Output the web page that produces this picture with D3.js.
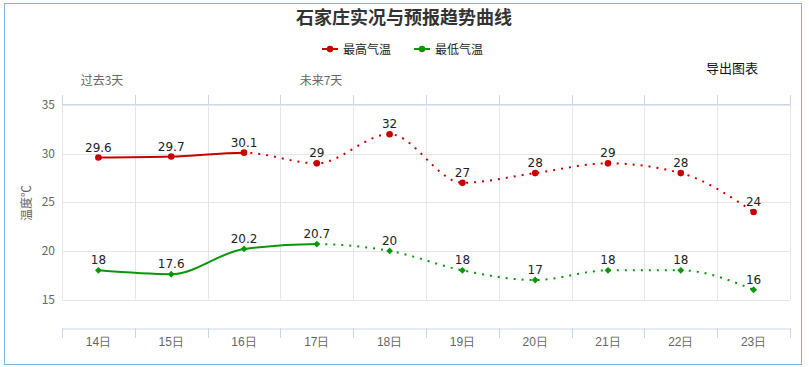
<!DOCTYPE html>
<html>
<head>
<meta charset="utf-8">
<script src="https://cdn.jsdelivr.net/npm/d3@7"></script>
<style>
  body { margin: 0; background: #fff; }
  svg { display: block; font-family: "Noto Sans CJK SC", "Noto Sans", sans-serif; }
  .grid line { stroke: #e6e6e6; }
  .ylab { fill: #666; font-size: 12px; }
  .xlab { fill: #666; font-size: 12px; }
  .dlab { fill: #222; font-size: 12px; font-family: "DejaVu Sans", sans-serif; }
</style>
</head>
<body>
<svg id="chart" width="809" height="367"></svg>
<script>
const days = ['14日', '15日', '16日', '17日', '18日', '19日', '20日', '21日', '22日', '23日'];
const maxTemp = [29.6, 29.7, 30.1, 29, 32, 27, 28, 29, 28, 24];
const minTemp = [18, 17.6, 20.2, 20.7, 20, 18, 17, 18, 18, 16];
const yTicks = [15, 20, 25, 30, 35];
// last index drawn with a solid line for each series
const maxSolidTo = 2;
const minSolidTo = 3;

const W = 809, H = 367;
const PLOT = { LEFT: 62, RIGHT: 790, TOP: 105, BOTTOM: 299.5 };
const XAXIS_Y = 328;
const RED = '#c80000', GREEN = '#0a960a';

const svg = d3.select('#chart');

svg.append('rect')
  .attr('x', 4.5).attr('y', 3.5)
  .attr('width', 797).attr('height', 361)
  .attr('fill', '#fff')
  .attr('stroke', '#7cb5ec');

const x = d3.scaleBand().domain(days).range([PLOT.LEFT, PLOT.RIGHT]);
const y = d3.scaleLinear().domain([15, 35]).range([PLOT.BOTTOM, PLOT.TOP]);
const cx = d => x(d) + x.bandwidth() / 2;
const bounds = days.map(d => x(d)).concat([PLOT.RIGHT]);

// grid
const grid = svg.append('g').attr('class', 'grid');
grid.selectAll('.hg').data(yTicks).enter().append('line')
  .attr('x1', PLOT.LEFT).attr('x2', PLOT.RIGHT)
  .attr('y1', d => Math.round(y(d)) + 0.5).attr('y2', d => Math.round(y(d)) + 0.5);
grid.selectAll('.vg').data(bounds).enter().append('line')
  .attr('x1', d => Math.round(d) + 0.5).attr('x2', d => Math.round(d) + 0.5)
  .attr('y1', PLOT.TOP - 1).attr('y2', PLOT.BOTTOM);

// top axis
svg.append('line')
  .attr('x1', PLOT.LEFT).attr('x2', PLOT.RIGHT)
  .attr('y1', 104.5).attr('y2', 104.5)
  .attr('stroke', '#ccd6eb');
svg.selectAll('.ttick').data(bounds).enter().append('line')
  .attr('x1', d => Math.round(d) + 0.5).attr('x2', d => Math.round(d) + 0.5)
  .attr('y1', 95).attr('y2', 104)
  .attr('stroke', '#ccd6eb');

svg.append('text').attr('x', 102).attr('y', 85)
  .attr('text-anchor', 'middle').attr('fill', '#666').style('font-size', '12px')
  .text('过去3天');
svg.append('text').attr('x', 321).attr('y', 85)
  .attr('text-anchor', 'middle').attr('fill', '#666').style('font-size', '12px')
  .text('未来7天');

// bottom axis
const xAxis = d3.axisBottom(x).tickSize(0).tickPadding(9);
const gx = svg.append('g')
  .attr('transform', `translate(0, ${XAXIS_Y + 0.5})`)
  .call(xAxis);
gx.select('.domain').attr('stroke', '#ccd6eb');
gx.selectAll('text').attr('class', 'xlab').attr('fill', '#666').style('font-size', '12px').attr('font-family', null);
svg.selectAll('.btick').data(bounds).enter().append('line')
  .attr('x1', d => Math.round(d) + 0.5).attr('x2', d => Math.round(d) + 0.5)
  .attr('y1', XAXIS_Y).attr('y2', XAXIS_Y + 10)
  .attr('stroke', '#ccd6eb');

// y axis labels
svg.selectAll('.ylab').data(yTicks).enter().append('text')
  .attr('class', 'ylab')
  .attr('x', 55).attr('y', d => y(d) + 4)
  .attr('text-anchor', 'end')
  .text(d => d);
svg.append('text')
  .attr('transform', 'translate(31, 203) rotate(-90)')
  .attr('text-anchor', 'middle')
  .attr('fill', '#666').style('font-size', '12px')
  .text('温度℃');

// clip paths for solid / dotted parts
const defs = svg.append('defs');
function addClip(id, x0, x1) {
  defs.append('clipPath').attr('id', id)
    .append('rect').attr('x', x0).attr('y', 0).attr('width', x1 - x0).attr('height', H);
}
addClip('maxSolid', 0, cx(days[maxSolidTo]));
addClip('maxDot', cx(days[maxSolidTo]), W);
addClip('minSolid', 0, cx(days[minSolidTo]));
addClip('minDot', cx(days[minSolidTo]), W);

const line = d3.line()
  .x((d, i) => cx(days[i]))
  .y(d => y(d))
  .curve(d3.curveMonotoneX);

function drawSeries(values, color, solidId, dotId) {
  svg.append('path').attr('d', line(values))
    .attr('fill', 'none').attr('stroke', color).attr('stroke-width', 2)
    .attr('clip-path', `url(#${solidId})`);
  svg.append('path').attr('d', line(values))
    .attr('fill', 'none').attr('stroke', color).attr('stroke-width', 2)
    .attr('stroke-dasharray', '2,6')
    .attr('clip-path', `url(#${dotId})`);
}
drawSeries(maxTemp, RED, 'maxSolid', 'maxDot');
drawSeries(minTemp, GREEN, 'minSolid', 'minDot');

svg.selectAll('.maxpt').data(maxTemp).enter().append('circle')
  .attr('cx', (d, i) => cx(days[i])).attr('cy', d => y(d))
  .attr('r', 3.3).attr('fill', RED);
const diamond = d3.symbol().type(d3.symbolDiamond2).size(30);
svg.selectAll('.minpt').data(minTemp).enter().append('path')
  .attr('d', diamond)
  .attr('transform', (d, i) => `translate(${cx(days[i])}, ${y(d)})`)
  .attr('fill', GREEN);

svg.selectAll('.maxlab').data(maxTemp).enter().append('text')
  .attr('class', 'dlab')
  .attr('x', (d, i) => cx(days[i])).attr('y', d => y(d) - 6)
  .attr('text-anchor', 'middle')
  .text(d => d);
svg.selectAll('.minlab').data(minTemp).enter().append('text')
  .attr('class', 'dlab')
  .attr('x', (d, i) => cx(days[i])).attr('y', d => y(d) - 6)
  .attr('text-anchor', 'middle')
  .text(d => d);

// title
svg.append('text')
  .attr('x', 404).attr('y', 24)
  .attr('text-anchor', 'middle')
  .attr('fill', '#333').style('font-size', '18px').style('font-weight', 'bold')
  .text('石家庄实况与预报趋势曲线');

// legend
const legend = [
  { name: '最高气温', color: RED, x: 322 },
  { name: '最低气温', color: GREEN, x: 414 }
];
const lg = svg.selectAll('.lg').data(legend).enter().append('g')
  .attr('transform', d => `translate(${d.x}, 49)`);
lg.append('line').attr('x1', 0).attr('x2', 16).attr('y1', 0).attr('y2', 0)
  .attr('stroke', d => d.color).attr('stroke-width', 2);
lg.append('circle').attr('cx', 8).attr('cy', 0).attr('r', 3.2).attr('fill', d => d.color);
lg.append('text').attr('x', 21).attr('y', 4.5)
  .attr('fill', '#222').style('font-size', '12px')
  .text(d => d.name);

svg.append('text')
  .attr('x', 732).attr('y', 73)
  .attr('text-anchor', 'middle')
  .attr('fill', '#111').style('font-size', '13px')
  .text('导出图表');
</script>
</body>
</html>
